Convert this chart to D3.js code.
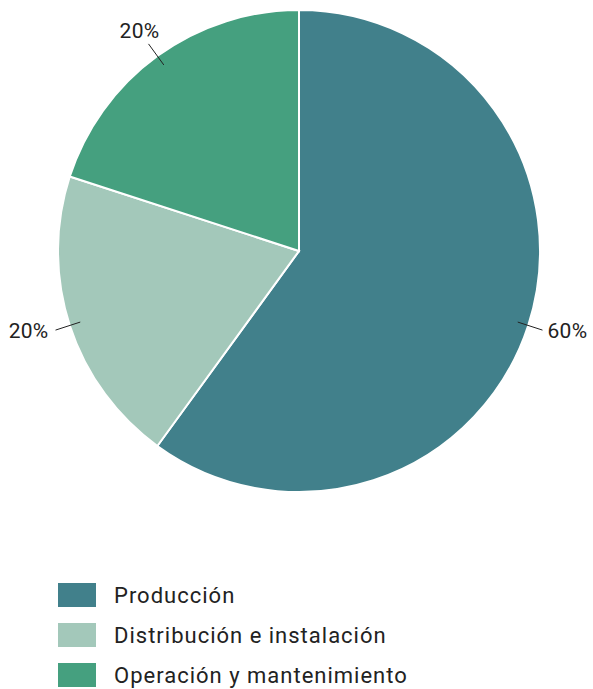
<!DOCTYPE html>
<html><head><meta charset="utf-8">
<script src="https://cdn.jsdelivr.net/npm/d3@7"></script>
<style>body{margin:0;background:#fff}svg{display:block}</style>
</head><body>
<svg id="c" width="593" height="689"></svg>
<script>
const categories = ["Producción", "Distribución e instalación", "Operación y mantenimiento"];
const values = [60, 20, 20];
const labels = ["60%", "20%", "20%"];
const colors = ["#41808B", "#A3C8BA", "#45A07F"];

const svg = d3.select("#c");
const cx = 299, cy = 251, R = 241;
const font = "Roboto, 'DejaVu Sans', sans-serif";
const g = svg.append("g").attr("transform", `translate(${cx},${cy})`);
const pie = d3.pie().sort(null).value(d => d)(values);
const arc = d3.arc().innerRadius(0).outerRadius(R);
g.selectAll("path").data(pie).join("path")
  .attr("d", arc).attr("fill", (d, i) => colors[i])
  .attr("stroke", "#fff").attr("stroke-width", 2);

pie.forEach((d, i) => {
  const a = (d.startAngle + d.endAngle) / 2;
  const s = Math.sin(a), c = -Math.cos(a);
  const p1 = [s * 230, c * 230], p2 = [s * 256, c * 256];
  g.append("line").attr("x1", p1[0]).attr("y1", p1[1]).attr("x2", p2[0]).attr("y2", p2[1])
    .attr("stroke", "#222").attr("stroke-width", 1);
  const t = g.append("text").text(labels[i]).attr("font-family", font)
    .attr("font-size", 21).attr("letter-spacing", 0.3).attr("fill", "#222");
  if (Math.abs(s) > 0.7) {
    t.attr("x", p2[0] + (s > 0 ? 5 : -7)).attr("y", p2[1] + 8)
     .attr("text-anchor", s > 0 ? "start" : "end");
  } else {
    t.attr("x", p2[0] - 9).attr("y", c < 0 ? p2[1] - 6 : p2[1] + 20)
     .attr("text-anchor", "middle");
  }
});

const leg = svg.append("g").attr("transform", "translate(58,583)");
categories.forEach((name, i) => {
  const row = leg.append("g").attr("transform", `translate(0,${i * 40})`);
  row.append("rect").attr("width", 38).attr("height", 24).attr("fill", colors[i]);
  row.append("text").attr("x", 56).attr("y", 20).text(name)
    .attr("font-family", font).attr("font-size", 22).attr("letter-spacing", 1)
    .attr("fill", "#222");
});
</script>
</body></html>
